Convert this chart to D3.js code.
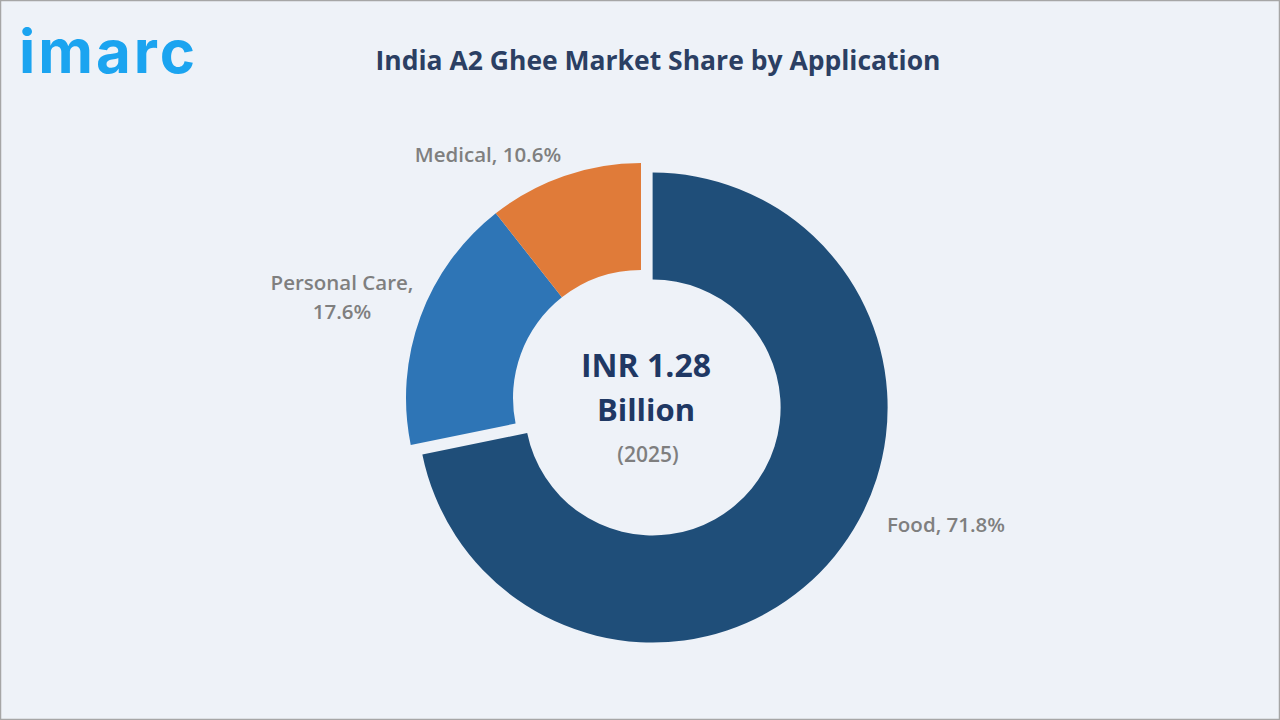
<!DOCTYPE html>
<html>
<head>
<meta charset="utf-8">
<script src="https://cdn.jsdelivr.net/npm/d3@7"></script>
<style>
  html, body { margin: 0; padding: 0; background: #eef2f8; }
  svg { display: block; }
</style>
</head>
<body>
<svg id="chart"></svg>
<script>
// data
var categories = ["Food", "Personal Care", "Medical"];
var shares = [71.8, 17.6, 10.6];
var colors = ["#1f4e79", "#2e75b6", "#e07b39"];
var labelLines = [["Food, 71.8%"], ["Personal Care,", "17.6%"], ["Medical, 10.6%"]];

var dimensions = { width: 1280, height: 720 };
var cx = 641, cy = 398, outerR = 235, innerR = 128, explode = 15;

var svg = d3.select("#chart")
            .attr("width", dimensions.width)
            .attr("height", dimensions.height);

svg.append("rect")
   .attr("x", 0.5).attr("y", 0.5)
   .attr("width", dimensions.width - 1).attr("height", dimensions.height - 1)
   .style("fill", "#eef2f8")
   .style("stroke", "#a6a6a6")
   .style("stroke-width", 1.5);

// logo
svg.append("text")
   .attr("x", 19).attr("y", 73)
   .style("font-family", "Inter, 'Open Sans', sans-serif")
   .style("font-weight", 700)
   .style("font-size", "60px")
   .style("fill", "#1ba4f0")
   .style("letter-spacing", "3px")
   .text("imarc");

// title
svg.append("text")
   .attr("x", 658).attr("y", 70)
   .attr("text-anchor", "middle")
   .style("font-family", "'Open Sans', sans-serif")
   .style("font-weight", 700)
   .style("font-size", "26.5px")
   .style("fill", "#2b3f63")
   .text("India A2 Ghee Market Share by Application");

var data = categories.map(function(c, i){
    return { name: c, value: shares[i], color: colors[i], lines: labelLines[i] };
});

var pie = d3.pie().sort(null).value(function(d){ return d.value });
var arcs = pie(data);
var arcGen = d3.arc().innerRadius(innerR).outerRadius(outerR);

var g = svg.append("g").attr("transform", "translate(" + cx + "," + cy + ")");

g.selectAll("path")
 .data(arcs)
 .enter()
 .append("path")
 .attr("d", arcGen)
 .attr("transform", function(d, i){
     if (i !== 0) return null;
     var mid = (d.startAngle + d.endAngle) / 2;
     return "translate(" + (Math.sin(mid) * explode) + "," + (-Math.cos(mid) * explode) + ")";
 })
 .style("fill", function(d){ return d.data.color });

// slice labels
var labelPos = [[946, 525], [342, 283], [488, 155]];
arcs.forEach(function(d, i){
    var t = svg.append("text")
               .attr("text-anchor", "middle")
               .style("font-family", "'Open Sans', sans-serif")
               .style("font-weight", 600)
               .style("font-size", "20.5px")
               .style("fill", "#7f7f7f");
    d.data.lines.forEach(function(line, j){
        t.append("tspan")
         .attr("x", labelPos[i][0])
         .attr("y", labelPos[i][1] + 7 + j * 29)
         .text(line);
    });
});

// centre text
svg.append("text")
   .attr("x", 646).attr("y", 377)
   .attr("text-anchor", "middle")
   .style("font-family", "'Open Sans', sans-serif")
   .style("font-weight", 700)
   .style("font-size", "32px")
   .style("fill", "#1f3864")
   .text("INR 1.28");
svg.append("text")
   .attr("x", 646).attr("y", 421)
   .attr("text-anchor", "middle")
   .style("font-family", "'Open Sans', sans-serif")
   .style("font-weight", 700)
   .style("font-size", "31px")
   .style("fill", "#1f3864")
   .text("Billion");
svg.append("text")
   .attr("x", 648).attr("y", 462)
   .attr("text-anchor", "middle")
   .style("font-family", "'Open Sans', sans-serif")
   .style("font-weight", 600)
   .style("font-size", "21px")
   .style("fill", "#7f7f7f")
   .text("(2025)");
</script>
</body>
</html>
